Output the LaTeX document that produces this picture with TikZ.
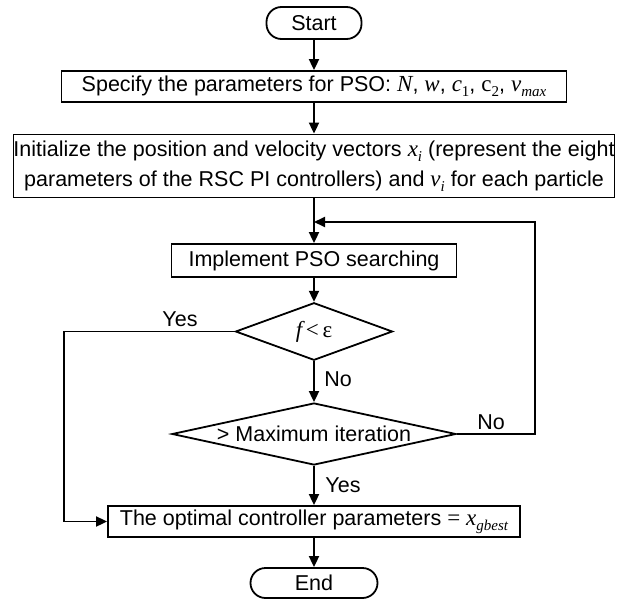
\documentclass[tikz,border=0pt]{standalone}
\usepackage{fontspec}
\setmainfont{Liberation Sans}
\newfontfamily\tnr{Liberation Serif}
\usepackage{tikz}
\usetikzlibrary{arrows.meta}
\usetikzlibrary{shapes.geometric}

\newcommand{\mvar}[1]{{\tnr\itshape\fontsize{23}{30}\selectfont #1}}
\newcommand{\mrm}[1]{{\tnr\fontsize{23}{30}\selectfont #1}}
\newcommand{\lowsub}[1]{\raisebox{-0.45ex}{\fontsize{15}{15}\selectfont #1}}

\begin{document}
\begin{tikzpicture}[x=1pt,y=-1pt,->,>={Triangle[length=11pt,width=10pt]},line width=1.8pt,
	font=\fontsize{21.5}{30}\selectfont,
	block/.style={draw,rectangle,inner sep=0pt,align=center},
	term/.style={draw,rectangle,rounded corners=15pt,inner sep=0pt},
	decision/.style={draw,diamond,inner sep=0pt}]
	
	\useasboundingbox (0,0) rectangle (619,600);
	
	\node[term, minimum width=95pt, minimum height=32pt] (start) at (314,23) {Start};
	\node[block, minimum width=505pt, minimum height=31pt] (spec) at (314,86.5) {Specify the parameters for PSO: \mvar{N}, \mvar{w}, \mvar{c}\lowsub{\tnr 1}, \mrm{c}\lowsub{\tnr 2}, \mvar{v}\lowsub{\tnr\itshape max}};
	\node[block, minimum width=601pt, minimum height=63pt] (init) at (314,166) {Initialize the position and velocity vectors \mvar{x}\lowsub{\tnr\itshape i} (represent the eight\\parameters of the RSC PI controllers) and \mvar{v}\lowsub{\tnr\itshape i} for each particle};
	\coordinate (join) at (314,222);
	\node[block, minimum width=285pt, minimum height=33pt] (impl) at (314,260.5) {Implement PSO searching};
	\node[decision, minimum width=157pt, minimum height=47pt] (fcheck) at (314,331.5) {\mvar{f}\,\mrm{<\,ε}};
	\node[decision, minimum width=284pt, minimum height=62pt, shape aspect=4.5] (maxit) at (314,434) {> Maximum iteration};
	\node[block, minimum width=412pt, minimum height=31pt] (final) at (314,521.5) {The optimal controller parameters \mrm{=} \mvar{x}\lowsub{\tnr\itshape gbest}};
	\node[term, minimum width=127pt, minimum height=30pt] (end) at (314,583) {End};
	
	\coordinate (side) at (64,331.5);
	\coordinate (back) at (535,222);
	
	\node (yesleft) at (180,319) {Yes};
	\node (nodown) at (338,379) {No};
	\node (noright) at (491,422) {No};
	\node (yesdown) at (343,485) {Yes};
	
	\path (start) edge (spec)
	(spec) edge (init)
	(init) edge (impl)
	(impl) edge (fcheck)
	(fcheck) edge (maxit)
	(maxit) edge (final)
	(final) edge (end);
	
	\draw (fcheck.west) -- (side) |- (final.west);
	\draw (maxit.east) -| (back) -- (join);
	
\end{tikzpicture}
\end{document}
